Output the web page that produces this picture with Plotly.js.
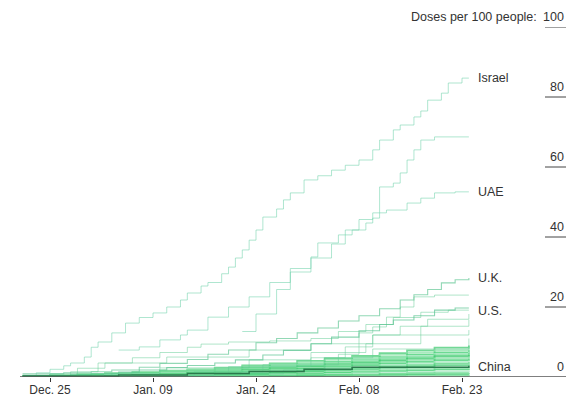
<!DOCTYPE html>
<html>
<head>
<meta charset="utf-8">
<script src="https://cdn.plot.ly/plotly-3.0.1.min.js"></script>
<style>
html,body{margin:0;padding:0;background:#fff;}
#chart{width:575px;height:399px;}
</style>
</head>
<body>
<div id="chart"></div>
<script>
// ---------- DATA ----------
const tickDates = ['2020-12-25','2021-01-09','2021-01-24','2021-02-08','2021-02-23'];
const tickLabels = ['Dec. 25','Jan. 09','Jan. 24','Feb. 08','Feb. 23'];
const yTickValues = [0,20,40,60,80,100];
const yAxisTitle = 'Doses per 100 people:';

const israelDates = ['2020-12-21','2020-12-23','2020-12-25','2020-12-27','2020-12-28','2020-12-30','2020-12-31','2021-01-01','2021-01-03','2021-01-05','2021-01-07','2021-01-09','2021-01-11','2021-01-13','2021-01-14','2021-01-16','2021-01-17','2021-01-19','2021-01-20','2021-01-21','2021-01-22','2021-01-23','2021-01-24','2021-01-25','2021-01-27','2021-01-28','2021-01-29','2021-01-31','2021-02-02','2021-02-04','2021-02-06','2021-02-08','2021-02-10','2021-02-11','2021-02-13','2021-02-14','2021-02-16','2021-02-17','2021-02-18','2021-02-20','2021-02-21','2021-02-23','2021-02-24'];
const israelValues = [0.3,1.2,2.2,3.2,4.0,5.7,8.5,10.0,12.6,15.4,17.0,18.3,20.0,22.0,24.0,26.0,27.0,29.5,31.4,34.0,36.3,39.1,42.0,45.7,48.0,50.6,52.6,56.3,57.5,59.1,60.5,62.0,64.9,67.7,70.6,72.0,74.3,76.0,79.1,81.1,84.0,85.4,85.4];

const seychellesDates = ['2021-01-22','2021-01-24','2021-01-27','2021-01-29','2021-02-01','2021-02-04','2021-02-06','2021-02-08','2021-02-10','2021-02-11','2021-02-13','2021-02-14','2021-02-15','2021-02-16','2021-02-17','2021-02-19','2021-02-24'];
const seychellesValues = [13.0,18.0,25.0,30.0,34.0,38.0,42.0,45.0,46.9,54.3,55.4,58.3,62.0,64.9,67.7,68.6,68.6];

const uaeDates = ['2021-01-04','2021-01-07','2021-01-10','2021-01-13','2021-01-14','2021-01-17','2021-01-20','2021-01-23','2021-01-26','2021-01-29','2021-02-01','2021-02-02','2021-02-05','2021-02-07','2021-02-09','2021-02-10','2021-02-11','2021-02-12','2021-02-15','2021-02-17','2021-02-19','2021-02-22','2021-02-24'];
const uaeValues = [7.7,8.6,10.6,12.0,13.4,17.1,20.0,22.9,27.0,31.0,34.3,38.3,40.6,42.0,44.0,45.4,46.9,47.7,49.7,51.1,52.6,52.9,52.9];

const ukDates = ['2020-12-21','2020-12-27','2020-12-31','2021-01-03','2021-01-07','2021-01-10','2021-01-14','2021-01-17','2021-01-20','2021-01-24','2021-01-27','2021-01-30','2021-02-02','2021-02-05','2021-02-08','2021-02-11','2021-02-14','2021-02-16','2021-02-18','2021-02-20','2021-02-22','2021-02-24'];
const ukValues = [0.9,1.2,1.5,2.0,2.8,3.9,5.0,6.5,7.7,9.8,11.0,12.6,14.0,16.0,17.5,19.5,22.0,23.5,25.0,26.9,27.8,28.3];

const usDates = ['2020-12-21','2020-12-25','2020-12-28','2020-12-31','2021-01-04','2021-01-07','2021-01-11','2021-01-14','2021-01-18','2021-01-21','2021-01-25','2021-01-28','2021-02-01','2021-02-04','2021-02-08','2021-02-11','2021-02-13','2021-02-16','2021-02-19','2021-02-22','2021-02-24'];
const usValues = [0.2,0.3,0.6,0.9,1.4,2.0,2.7,3.3,4.0,4.9,6.3,7.6,9.5,11.4,13.2,15.0,16.3,17.5,19.1,19.7,19.7];

const chinaDates = ['2020-12-21','2021-01-04','2021-01-14','2021-01-23','2021-01-31','2021-02-07','2021-02-24'];
const chinaValues = [0.3,0.6,1.0,1.6,2.2,2.8,3.2];

// unlabelled mid-range countries
const jumpyDates = ['2020-12-28','2021-01-08','2021-01-18','2021-01-28','2021-02-03','2021-02-06','2021-02-08','2021-02-10','2021-02-12','2021-02-14','2021-02-16','2021-02-19','2021-02-24'];
const jumpyValues = [0.1,0.4,0.9,2.0,5.5,8.6,12.6,14.3,17.1,20.0,22.9,23.4,23.4];

const bahrainDates = ['2020-12-21','2020-12-25','2020-12-29','2021-01-02','2021-01-06','2021-01-10','2021-01-14','2021-01-16','2021-01-20','2021-01-26','2021-02-01','2021-02-05','2021-02-09','2021-02-13','2021-02-17','2021-02-21','2021-02-24'];
const bahrainValues = [0.5,1.0,2.5,4.0,5.5,7.0,8.5,9.4,10.0,10.3,11.0,13.0,15.0,17.0,18.5,19.1,19.1];

const midADates = ['2020-12-21','2020-12-28','2021-01-01','2021-01-11','2021-01-23','2021-02-01','2021-02-10','2021-02-17','2021-02-24'];
const midAValues = [0.3,1.5,4.0,5.7,7.7,9.5,12.0,14.5,16.3];

const midBDates = ['2020-12-25','2021-01-03','2021-01-10','2021-01-23','2021-02-01','2021-02-09','2021-02-17','2021-02-24'];
const midBValues = [0.2,1.0,2.6,4.9,7.0,9.5,12.0,13.4];

const midCDates = ['2021-01-01','2021-01-15','2021-01-25','2021-02-05','2021-02-08','2021-02-10','2021-02-14','2021-02-18','2021-02-24'];
const midCValues = [0.2,1.5,3.5,6.5,8.6,12.0,14.5,16.5,18.0];

const midDDates = ['2021-01-05','2021-01-20','2021-02-01','2021-02-10','2021-02-24'];
const midDValues = [0.3,3.0,5.5,8.0,11.0];

// dense bundle of low-coverage countries
const bundleDates = ['2020-12-21','2020-12-25','2020-12-29','2021-01-02','2021-01-06','2021-01-10','2021-01-14','2021-01-18','2021-01-22','2021-01-26','2021-01-30','2021-02-03','2021-02-07','2021-02-11','2021-02-15','2021-02-19','2021-02-24'];
const bundle01 = [0.3,0.5,0.8,1.1,1.4,1.8,2.2,2.7,3.3,3.9,4.6,5.3,6.0,6.8,7.6,8.4,9.0];
const bundle02 = [0.2,0.4,0.6,0.9,1.2,1.6,2.0,2.5,3.0,3.6,4.2,4.9,5.6,6.3,7.0,7.7,8.2];
const bundle03 = [0.1,0.3,0.5,0.7,1.0,1.3,1.7,2.1,2.6,3.1,3.7,4.3,5.0,5.7,6.4,7.0,7.6];
const bundle04 = [0,0.1,0.3,0.5,0.8,1.1,1.5,1.9,2.4,2.9,3.5,4.1,4.8,5.4,6.0,6.6,7.2];
const bundle05 = [0,0,0.1,0.3,0.6,0.9,1.3,1.7,2.2,2.7,3.2,3.8,4.4,5.0,5.6,6.2,6.8];
const bundle06 = [0,0,0,0.2,0.4,0.7,1.0,1.4,1.9,2.4,2.9,3.4,4.0,4.6,5.2,5.8,6.3];
const bundle07 = [0,0,0,0.1,0.3,0.6,0.9,1.3,1.7,2.1,2.6,3.1,3.7,4.2,4.8,5.3,5.8];
const bundle08 = [0,0,0,0,0.2,0.4,0.7,1.0,1.4,1.8,2.3,2.8,3.3,3.8,4.3,4.8,5.2];
const bundle09 = [0,0,0,0,0.1,0.3,0.5,0.8,1.2,1.6,2.0,2.5,2.9,3.4,3.8,4.3,4.7];
const bundle10 = [0,0,0,0,0,0.2,0.4,0.7,1.0,1.4,1.8,2.2,2.6,3.0,3.4,3.8,4.2];
const bundle11 = [0,0,0,0,0,0.1,0.3,0.5,0.8,1.1,1.5,1.8,2.2,2.6,2.9,3.3,3.6];
const bundle12 = [0,0,0,0,0,0,0.2,0.4,0.6,0.9,1.2,1.5,1.8,2.1,2.4,2.7,3.0];
const bundle13 = [0,0,0,0,0,0,0.1,0.3,0.5,0.7,0.9,1.2,1.4,1.7,1.9,2.2,2.4];
const bundle14 = [0,0,0,0,0,0,0,0.2,0.3,0.5,0.7,0.9,1.1,1.3,1.4,1.6,1.8];
const bundle15 = [0,0,0,0,0,0,0,0.1,0.2,0.3,0.5,0.6,0.7,0.9,1.0,1.1,1.2];
const bundle16 = [0,0,0,0,0,0,0,0,0.1,0.2,0.3,0.4,0.4,0.5,0.6,0.6,0.7];
const bundle17 = [0,0,0,0,0,0,0,0,0,0.1,0.1,0.2,0.2,0.2,0.3,0.3,0.3];

// ---------- STYLE ----------
const paleLine = 'rgba(110,210,170,0.55)';
const midLine = 'rgba(100,205,150,0.5)';
const bundleColors = ['rgba(55,200,105,0.7)','rgba(140,225,170,0.75)','rgba(60,205,110,0.75)','rgba(170,232,195,0.75)','rgba(75,210,120,0.7)'];

const traces = [];
function addLine(x, y, color, width) {
  traces.push({x: x, y: y, type: 'scatter', mode: 'lines',
    line: {shape: 'hv', color: color, width: width}, hoverinfo: 'skip'});
}

const bundles = [bundle01,bundle02,bundle03,bundle04,bundle05,bundle06,bundle07,bundle08,bundle09,bundle10,bundle11,bundle12,bundle13,bundle14,bundle15,bundle16,bundle17];
bundles.forEach((b, i) => addLine(bundleDates, b, bundleColors[i % bundleColors.length], 1.8));

addLine(midDDates, midDValues, midLine, 1);
addLine(midCDates, midCValues, midLine, 1);
addLine(midBDates, midBValues, midLine, 1);
addLine(midADates, midAValues, midLine, 1);
addLine(bahrainDates, bahrainValues, midLine, 1);
addLine(jumpyDates, jumpyValues, midLine, 1);
addLine(usDates, usValues, 'rgba(90,195,145,0.7)', 1.1);
addLine(ukDates, ukValues, 'rgba(100,200,150,0.7)', 1.1);
addLine(uaeDates, uaeValues, paleLine, 1);
addLine(seychellesDates, seychellesValues, paleLine, 1);
addLine(israelDates, israelValues, paleLine, 1);
addLine(chinaDates, chinaValues, '#2a7a4c', 1.5);

// ---------- LABELS ----------
const textFont = {family: 'Liberation Sans, Arial, Helvetica, sans-serif', size: 12.5, color: '#333'};
const tickFont = {family: 'Liberation Sans, Arial, Helvetica, sans-serif', size: 12, color: '#333'};
const countryLabels = [
  {name: 'Israel', v: israelValues[israelValues.length-1]},
  {name: 'UAE', v: uaeValues[uaeValues.length-1]},
  {name: 'U.K.', v: ukValues[ukValues.length-1]},
  {name: 'U.S.', v: usValues[usValues.length-1] - 0.8},
  {name: 'China', v: chinaValues[chinaValues.length-1] - 0.3}
];
const annotations = countryLabels.map(c => ({
  x: '2021-02-25', y: c.v, xref: 'x', yref: 'y', text: c.name, showarrow: false,
  xanchor: 'left', yanchor: 'middle', font: textFont
}));
const shapes = [];
yTickValues.forEach(v => {
  annotations.push({x: 566/575, xref: 'paper', y: v, yref: 'y', text: String(v), showarrow: false,
    xanchor: 'right', yanchor: 'bottom', yshift: 1, font: textFont});
  shapes.push({type: 'line', xref: 'paper', yref: 'y', x0: (v === 0 ? 20 : 545)/575, x1: 566/575, y0: v, y1: v,
    line: {color: v === 0 ? '#555' : '#444', width: v === 0 ? 1.5 : 1}});
});
annotations.push({x: 539/575, xref: 'paper', y: 100, yref: 'y', text: yAxisTitle, showarrow: false,
  xanchor: 'right', yanchor: 'bottom', yshift: 1, font: textFont});

const layout = {
  width: 575, height: 399,
  margin: {l: 0, r: 0, t: 27, b: 22},
  paper_bgcolor: '#fff', plot_bgcolor: '#fff',
  showlegend: false,
  xaxis: {type: 'date', range: ['2020-12-17 17:14', '2021-03-11 10:56'],
    tickvals: tickDates, ticktext: tickLabels, ticks: 'outside', ticklen: 4, tickwidth: 1, tickcolor: '#333',
    ticklabelstandoff: -2,
    showgrid: false, zeroline: false, showline: false, tickfont: tickFont, fixedrange: true},
  yaxis: {range: [0, 100], showgrid: false, zeroline: false, showline: false, showticklabels: false, ticks: '', fixedrange: true},
  annotations: annotations,
  shapes: shapes
};

Plotly.newPlot('chart', traces, layout, {staticPlot: true, displayModeBar: false});
</script>
</body>
</html>
